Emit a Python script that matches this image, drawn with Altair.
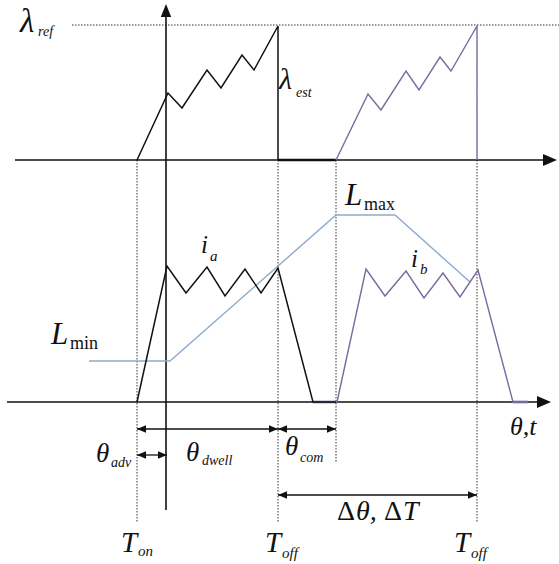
import altair as alt
import pandas as pd

W, H = 559, 564
SERIF = "Liberation Serif"
BLACK = "#111111"
PURPLE = "#7b6aa0"
BLUE = "#8eaac9"

# ---- waveform vertices (drawing units, y grows downward) ----
flux_a_x = [137, 168, 182, 207, 221, 242, 254, 278, 278]
flux_a_y = [160, 93, 108, 70, 88, 55, 70, 26, 160]
flux_b_x = [336, 368, 381, 406, 419, 440, 451, 477, 477]
flux_b_y = [160, 94, 110, 71, 90, 57, 71, 26, 160]
current_a_x = [137, 167, 186, 207, 225, 245, 261, 278, 313, 336]
current_a_y = [402, 266, 293, 267, 296, 269, 293, 268, 402, 402]
current_b_x = [337, 366, 385, 406, 424, 443, 460, 478, 513, 528]
current_b_y = [402, 269, 296, 271, 298, 273, 297, 270, 402, 402]
induct_x = [89, 170, 336, 395, 470]
induct_y = [361, 361, 215, 215, 282]

# axes (x1, y1, x2, y2)
axis_lines = [
    (166, 16, 166, 510),
    (15, 160, 544, 160),
    (7, 402, 538, 402),
]
# heavier off-interval strokes along the axes
gap_black = [(278, 160, 336, 160)]
gap_purple = [(313, 402, 337, 402), (513, 402, 528, 402)]

# dotted guides
dotted_lines = [
    (72, 25, 559, 25),
    (137, 160, 137, 522),
    (278, 160, 278, 522),
    (336, 160, 336, 462),
    (477, 160, 477, 522),
]

# dimension arrows (x_start, x_end, y)
dims = [
    (137, 278, 429),
    (278, 336, 429),
    (137, 167, 455),
    (278, 477, 495),
]

# axis arrow tips (x, y, direction, length)
axis_tips = [
    (166, 4, "u", 13),
    (557, 160, "r", 14),
    (551, 402, "r", 14),
]

# labels: (text, x, baseline y, font size)
italic_labels = [
    ("λ", 20, 32, 33), ("ref", 38, 36, 14),
    ("λ", 279, 89, 30), ("est", 296, 97, 14),
    ("i", 201, 253, 25), ("a", 210, 261, 15),
    ("i", 411, 267, 25), ("b", 420, 274, 15),
    ("L", 51, 344, 31),
    ("L", 345, 205, 31),
    ("θ", 96, 462, 27), ("adv", 111, 467, 14),
    ("θ", 186, 461, 27), ("dwell", 202, 465, 14),
    ("θ", 285, 455, 27), ("com", 300, 462, 14),
    ("θ,t", 510, 435, 26),
    ("θ,", 356, 520, 28), ("T", 403, 520, 28),
    ("T", 121, 552, 29), ("on", 138, 556, 15),
    ("T", 265, 552, 29), ("off", 282, 558, 15),
    ("T", 454, 552, 29), ("off", 471, 558, 15),
]
upright_labels = [
    ("min", 70, 349, 18), ("max", 364, 210, 18),
    ("Δ", 337, 520, 28), ("Δ", 384, 520, 28),
]

X = lambda f="x": alt.X(f"{f}:Q", scale=alt.Scale(domain=[0, W], nice=False, zero=False), axis=None)
Y = lambda f="y": alt.Y(f"{f}:Q", scale=alt.Scale(domain=[0, H], nice=False, zero=False, reverse=True), axis=None)


def polyline(xs, ys, color, width, dash=None):
    df = pd.DataFrame({"x": xs, "y": ys, "i": range(len(xs))})
    kw = dict(color=color, strokeWidth=width, strokeJoin="miter", clip=False)
    if dash:
        kw["strokeDash"] = dash
    return alt.Chart(df).mark_line(**kw).encode(x=X(), y=Y(), order="i:Q")


def segments(segs, color, width, dash=None):
    df = pd.DataFrame(segs, columns=["x", "y", "x2", "y2"])
    kw = dict(color=color, strokeWidth=width)
    if dash:
        kw["strokeDash"] = dash
    return alt.Chart(df).mark_rule(**kw).encode(
        x=X(), y=Y(), x2="x2:Q", y2="y2:Q"
    )


# arrowhead shapes with the tip at the symbol origin
SHAPE_R = "M0,0L-1,-0.42L-1,0.42Z"
SHAPE_L = "M0,0L1,-0.42L1,0.42Z"
SHAPE_U = "M0,0L-0.4,1L0.4,1Z"

tips = []
for x, y, d, L in axis_tips:
    tips.append({"x": x, "y": y, "d": d, "s": 4 * L * L})
dim_rules = []
for x1, x2, y in dims:
    dim_rules.append((x1, y, x2, y))
    tips.append({"x": x1, "y": y, "d": "l", "s": 4 * 9 * 9})
    tips.append({"x": x2, "y": y, "d": "r", "s": 4 * 9 * 9})
tips_df = pd.DataFrame(tips)

heads = alt.Chart(tips_df).mark_point(filled=True, opacity=1, color=BLACK, strokeWidth=0).encode(
    x=X(), y=Y(),
    shape=alt.Shape("d:N", scale=alt.Scale(domain=["r", "l", "u"], range=[SHAPE_R, SHAPE_L, SHAPE_U]), legend=None),
    size=alt.Size("s:Q", scale=None),
)


def labels(items, style):
    df = pd.DataFrame(items, columns=["t", "x", "y", "fs"])
    kw = dict(font=SERIF, align="left", baseline="alphabetic", color=BLACK)
    if style:
        kw["fontStyle"] = style
    return alt.Chart(df).mark_text(**kw).encode(
        x=X(), y=Y(), text="t:N", size=alt.Size("fs:Q", scale=None)
    )


chart = alt.layer(
    segments(dotted_lines, "#333333", 1, [1.5, 1.5]),
    segments(axis_lines, BLACK, 1.6),
    segments(gap_black, BLACK, 2.6),
    segments(gap_purple, PURPLE, 2.6),
    segments(dim_rules, BLACK, 1.3),
    polyline(induct_x, induct_y, BLUE, 1.4),
    polyline(flux_a_x, flux_a_y, BLACK, 1.5),
    polyline(flux_b_x, flux_b_y, PURPLE, 1.4),
    polyline(current_a_x, current_a_y, BLACK, 1.5),
    polyline(current_b_x, current_b_y, PURPLE, 1.4),
    heads,
    labels(italic_labels, "italic"),
    labels(upright_labels, None),
).properties(
    width=W, height=H, autosize=alt.AutoSizeParams(type="none"), padding=0
).configure_view(stroke=None)

chart.save("out.html", embed_options={"renderer": "svg", "actions": False})
